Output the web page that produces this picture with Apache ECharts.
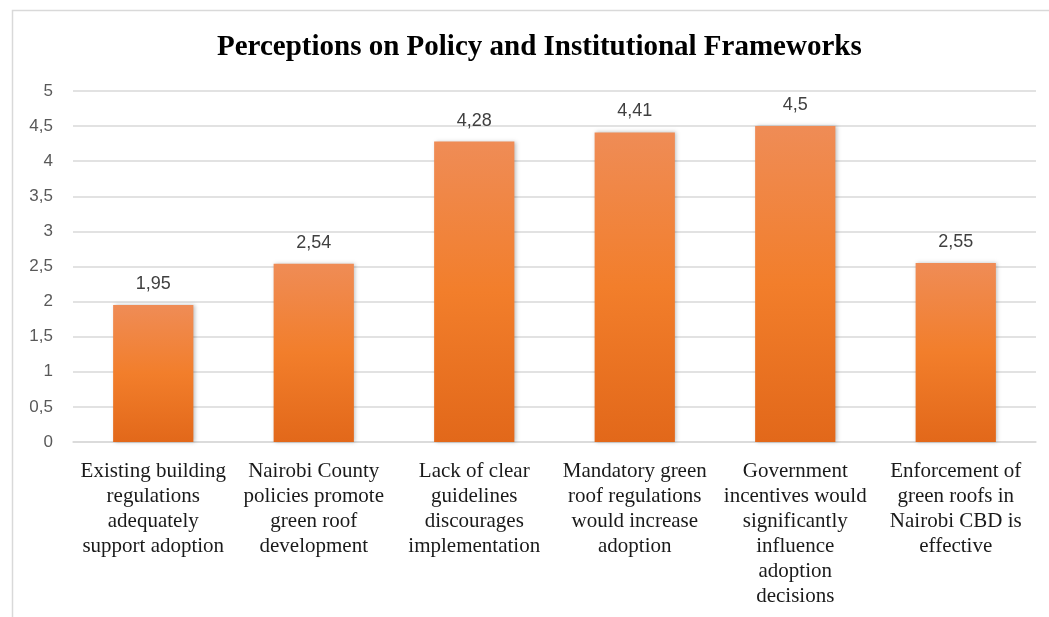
<!DOCTYPE html>
<html>
<head>
<meta charset="utf-8">
<script src="https://cdn.jsdelivr.net/npm/echarts@6/dist/echarts.min.js"></script>
<style>
html,body{margin:0;padding:0;background:#fff;}
#chart{width:1049px;height:617px;}
</style>
</head>
<body>
<div id="chart"></div>
<script>
const titleText = 'Perceptions on Policy and Institutional Frameworks';
const categories = [
  'Existing building\nregulations\nadequately\nsupport adoption',
  'Nairobi County\npolicies promote\ngreen roof\ndevelopment',
  'Lack of clear\nguidelines\ndiscourages\nimplementation',
  'Mandatory green\nroof regulations\nwould increase\nadoption',
  'Government\nincentives would\nsignificantly\ninfluence\nadoption\ndecisions',
  'Enforcement of\ngreen roofs in\nNairobi CBD is\neffective'
];
const values = [1.95, 2.54, 4.28, 4.41, 4.5, 2.55];
const yMin = 0, yMax = 5, yStep = 0.5;

const fmt = v => String(v).replace('.', ',');

const chart = echarts.init(document.getElementById('chart'), null, {renderer: 'canvas'});
chart.setOption({
  backgroundColor: '#ffffff',
  animation: false,
  title: {
    text: titleText,
    left: 212,
    top: 28,
    textStyle: {
      fontFamily: 'Liberation Serif',
      fontWeight: 'bold',
      fontSize: 29,
      color: '#000000'
    }
  },
  graphic: [{
    type: 'rect',
    left: 10, top: 8,
    shape: {width: 1200, height: 800},
    style: {fill: 'none', stroke: '#d9d9d9', lineWidth: 1.5},
    silent: true
  }],
  grid: {left: 73, right: 13, top: 91, bottom: 175, containLabel: false},
  xAxis: {
    type: 'category',
    data: categories,
    axisLine: {show: true, lineStyle: {color: '#d9d9d9', width: 1.5}},
    axisTick: {show: false},
    axisLabel: {
      interval: 0,
      margin: 17,
      fontFamily: 'Liberation Serif',
      fontSize: 21,
      lineHeight: 25,
      color: '#1a1a1a',
      align: 'center'
    }
  },
  yAxis: {
    type: 'value',
    min: yMin, max: yMax, interval: yStep,
    axisLine: {show: false},
    axisTick: {show: false},
    splitLine: {lineStyle: {color: '#d9d9d9', width: 1.5}},
    axisLabel: {
      margin: 20,
      fontFamily: 'Liberation Sans',
      fontSize: 17,
      color: '#595959',
      formatter: v => fmt(v)
    }
  },
  series: [{
    type: 'bar',
    data: values,
    barWidth: '50%',
    itemStyle: {
      color: new echarts.graphic.LinearGradient(0, 0, 0, 1, [
        {offset: 0, color: '#EF8C56'},
        {offset: 0.5, color: '#F27E2B'},
        {offset: 1, color: '#E2681A'}
      ]),
      shadowColor: 'rgba(0,0,0,0.25)',
      shadowBlur: 4,
      shadowOffsetX: 1.5,
      shadowOffsetY: 0
    },
    label: {
      show: true,
      position: 'top',
      distance: 12,
      fontFamily: 'Liberation Sans',
      fontSize: 18,
      color: '#404040',
      formatter: p => fmt(p.value)
    }
  }]
});
</script>
</body>
</html>
